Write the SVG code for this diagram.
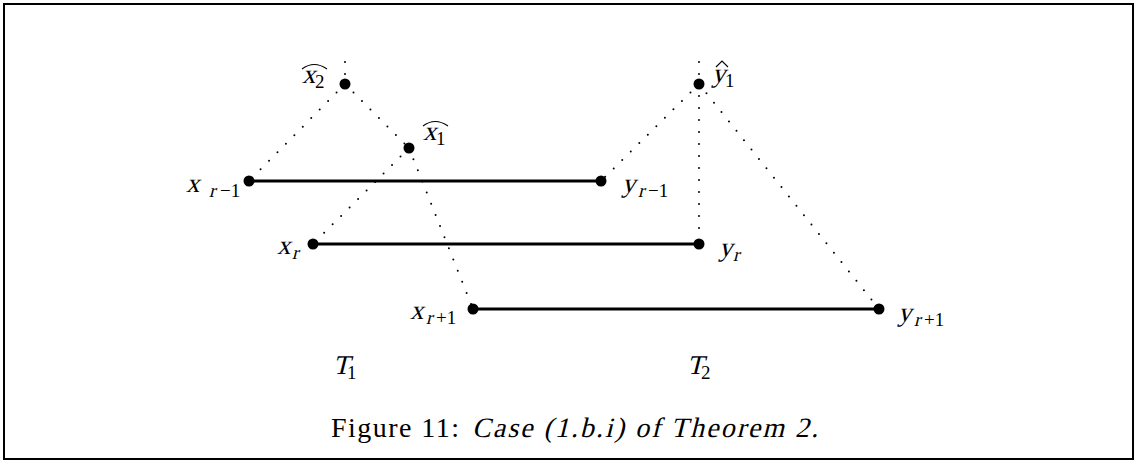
<svg xmlns="http://www.w3.org/2000/svg" width="1137" height="463" viewBox="0 0 1137 463">
<style>
.dot{stroke:#000;stroke-width:2;stroke-linecap:round;stroke-dasharray:0 12;fill:none}
.edge{stroke:#000;stroke-width:3;fill:none}
.node{fill:#000}
text{font-family:'Liberation Serif','Times New Roman',serif;fill:#000;font-style:normal}
.m{font-size:27px}
.s{font-size:19px}
.hat{stroke:#000;stroke-width:1.1;fill:none}
.cap{font-size:28px}
</style>
<rect x="4" y="4" width="1129" height="455" fill="#fff" stroke="#000" stroke-width="2"/>
<g id="connectors">
<line class="dot" x1="345" y1="62" x2="345" y2="84"/>
<line class="dot" x1="345" y1="84" x2="249" y2="181"/>
<line class="dot" x1="345" y1="84" x2="409" y2="148"/>
<line class="dot" x1="409" y1="148" x2="313" y2="244"/>
<line class="dot" x1="409" y1="148" x2="473" y2="309"/>
<line class="dot" x1="699" y1="62" x2="699" y2="84"/>
<line class="dot" x1="699" y1="84" x2="601" y2="181"/>
<line class="dot" x1="699" y1="84" x2="699" y2="244"/>
<line class="dot" x1="699" y1="84" x2="879" y2="309"/>
<line class="edge" x1="249" y1="181" x2="601" y2="181"/>
<line class="edge" x1="313" y1="244" x2="699" y2="244"/>
<line class="edge" x1="473" y1="309" x2="879" y2="309"/>
</g>
<g id="x2hat"><circle class="node" cx="345" cy="84" r="5.5"/>
<text class="m" transform="translate(302,83) skewX(-14)">x</text><text class="s" x="315" y="88">2</text>
<path class="hat" d="M302,69 Q314,60 327,69"/></g>
<g id="x1hat"><circle class="node" cx="409" cy="148" r="5.5"/>
<text class="m" transform="translate(423,140) skewX(-14)">x</text><text class="s" x="436" y="145">1</text>
<path class="hat" d="M423,126 Q435,117 448,126"/></g>
<g id="y1hat"><circle class="node" cx="699" cy="84" r="5.5"/>
<text class="m" transform="translate(712,82) skewX(-14)">y</text><text class="s" x="725" y="87">1</text>
<path class="hat" d="M716,67 L722,61 L728,67"/></g>
<g id="xr-1"><circle class="node" cx="249" cy="181" r="5.5"/>
<text class="m" transform="translate(186,192) skewX(-14)">x</text><text class="s" transform="translate(209,197) skewX(-14)">r</text><text class="s" x="220" y="197">−1</text></g>
<g id="yr-1"><circle class="node" cx="601" cy="181" r="5.5"/>
<text class="m" transform="translate(622,192) skewX(-14)">y</text><text class="s" transform="translate(638,197) skewX(-14)">r</text><text class="s" x="648" y="197">−1</text></g>
<g id="xr"><circle class="node" cx="313" cy="244" r="5.5"/>
<text class="m" transform="translate(277,254) skewX(-14)">x</text><text class="s" transform="translate(292,259) skewX(-14)">r</text></g>
<g id="yr"><circle class="node" cx="699" cy="244" r="5.5"/>
<text class="m" transform="translate(719,256) skewX(-14)">y</text><text class="s" transform="translate(733,261) skewX(-14)">r</text></g>
<g id="xr+1"><circle class="node" cx="473" cy="309" r="5.5"/>
<text class="m" transform="translate(410,319) skewX(-14)">x</text><text class="s" transform="translate(426,324) skewX(-14)">r</text><text class="s" x="436" y="324">+1</text></g>
<g id="yr+1"><circle class="node" cx="879" cy="309" r="5.5"/>
<text class="m" transform="translate(898,321) skewX(-14)">y</text><text class="s" transform="translate(914,326) skewX(-14)">r</text><text class="s" x="924" y="326">+1</text></g>
<g id="T1"><text class="m" transform="translate(333,374) skewX(-14)">T</text><text class="s" x="347" y="379">1</text></g>
<g id="T2"><text class="m" transform="translate(687,374) skewX(-14)">T</text><text class="s" x="701" y="379">2</text></g>
<g id="caption"><text class="cap" x="331" y="437" textLength="128" lengthAdjust="spacing">Figure 11:</text><text class="cap" transform="translate(472,437) skewX(-14)" textLength="346" lengthAdjust="spacing">Case (1.b.i) of Theorem 2.</text></g>
</svg>
